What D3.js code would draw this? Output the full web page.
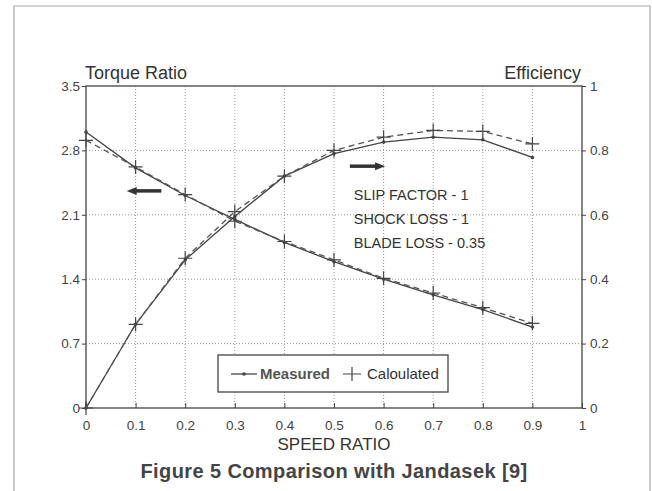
<!DOCTYPE html>
<html>
<head>
<meta charset="utf-8">
<script src="https://cdn.jsdelivr.net/npm/d3@7"></script>
<style>
  body { margin: 0; background: #fff; }
  svg { font-family: "Liberation Sans", Arial, sans-serif; }
</style>
</head>
<body>
<svg width="652" height="491"></svg>
<script>
// values
const speedRatio = [0, 0.1, 0.2, 0.3, 0.4, 0.5, 0.6, 0.7, 0.8, 0.9];
const torqueMeasured = [3.0, 2.61, 2.31, 2.05, 1.80, 1.59, 1.40, 1.23, 1.07, 0.88];
const torqueCalc = [2.91, 2.62, 2.32, 2.03, 1.81, 1.61, 1.41, 1.25, 1.09, 0.92];
const effMeasured = [0, 0.26, 0.46, 0.595, 0.72, 0.79, 0.826, 0.841, 0.833, 0.778];
const effCalc = [0, 0.26, 0.465, 0.61, 0.72, 0.80, 0.841, 0.862, 0.859, 0.82];
const xTicks = [0, 0.1, 0.2, 0.3, 0.4, 0.5, 0.6, 0.7, 0.8, 0.9, 1];
const torqueTicks = [0, 0.7, 1.4, 2.1, 2.8, 3.5];
const effTicks = [0, 0.2, 0.4, 0.6, 0.8, 1];
const notes = ["SLIP FACTOR - 1", "SHOCK LOSS - 1", "BLADE LOSS - 0.35"];

const svg = d3.select("svg");
const ink = "#444";

// page frame (scan border)
svg.append("path")
  .attr("d", "M14,491 L14,6 L650,6 L650,491")
  .attr("fill", "none")
  .attr("stroke", "#aaa")
  .attr("stroke-width", 1.2);

const x = d3.scaleLinear().domain([0, 1]).range([86, 582]);
const yT = d3.scaleLinear().domain([0, 3.5]).range([408, 86]);
const yE = d3.scaleLinear().domain([0, 1]).range([408, 86]);

// dotted grid
const grid = svg.append("g")
  .attr("stroke", "#999")
  .attr("stroke-dasharray", "1,2")
  .attr("stroke-width", 1);
grid.selectAll("line.gx")
  .data(xTicks.slice(1, -1))
  .enter().append("line")
  .attr("x1", (d) => x(d)).attr("x2", (d) => x(d))
  .attr("y1", yT(0)).attr("y2", yT(3.5));
grid.selectAll("line.gy")
  .data(torqueTicks.slice(1, -1))
  .enter().append("line")
  .attr("x1", x(0)).attr("x2", x(1))
  .attr("y1", (d) => yT(d)).attr("y2", (d) => yT(d));

// frame of the plot
svg.append("rect")
  .attr("x", x(0)).attr("y", yT(3.5))
  .attr("width", x(1) - x(0)).attr("height", yT(0) - yT(3.5))
  .attr("fill", "none")
  .attr("stroke", ink)
  .attr("stroke-width", 1.3);

// axes
const xAxis = svg.append("g")
  .attr("transform", `translate(0,${yT(0)})`)
  .call(d3.axisBottom(x).tickValues(xTicks).tickFormat(d3.format("")).tickSizeInner(-5).tickSizeOuter(0).tickPadding(12));
const leftAxis = svg.append("g")
  .attr("transform", `translate(${x(0)},0)`)
  .call(d3.axisLeft(yT).tickValues(torqueTicks).tickFormat(d3.format("")).tickSizeInner(4).tickSizeOuter(0).tickPadding(2));
const rightAxis = svg.append("g")
  .attr("transform", `translate(${x(1)},0)`)
  .call(d3.axisRight(yE).tickValues(effTicks).tickFormat(d3.format("")).tickSizeInner(4).tickSizeOuter(0).tickPadding(4));

[xAxis, leftAxis, rightAxis].forEach((g) => {
  g.select(".domain").remove();
  g.selectAll(".tick line").attr("stroke", ink);
  g.selectAll(".tick text")
    .attr("fill", "#444")
    .attr("font-size", 13.5)
    .attr("font-family", "Liberation Sans, Arial, sans-serif");
});

// axis titles
svg.append("text").attr("x", 85).attr("y", 79)
  .attr("font-size", 18).attr("fill", "#333").text("Torque Ratio");
svg.append("text").attr("x", 581).attr("y", 79)
  .attr("text-anchor", "end")
  .attr("font-size", 18).attr("fill", "#333").text("Efficiency");
svg.append("text").attr("x", (x(0) + x(1)) / 2).attr("y", 450)
  .attr("text-anchor", "middle")
  .attr("font-size", 17).attr("fill", "#333").text("SPEED RATIO");
svg.append("text").attr("x", (x(0) + x(1)) / 2).attr("y", 478)
  .attr("text-anchor", "middle")
  .attr("font-size", 20).attr("font-weight", "bold").attr("fill", "#444")
  .attr("letter-spacing", 0.4)
  .text("Figure 5 Comparison with Jandasek [9]");

// series
const series = [
  { vals: torqueMeasured, y: yT, calc: false },
  { vals: torqueCalc, y: yT, calc: true },
  { vals: effMeasured, y: yE, calc: false },
  { vals: effCalc, y: yE, calc: true }
];

series.forEach((s) => {
  const line = d3.line()
    .x((d, i) => x(speedRatio[i]))
    .y((d) => s.y(d));
  svg.append("path")
    .datum(s.vals)
    .attr("d", line)
    .attr("fill", "none")
    .attr("stroke", s.calc ? "#555" : ink)
    .attr("stroke-width", 1.3)
    .attr("stroke-dasharray", s.calc ? "6,4" : null);

  if (s.calc) {
    svg.append("g").selectAll("path")
      .data(s.vals)
      .enter().append("path")
      .attr("d", (d, i) => {
        const cx = x(speedRatio[i]), cy = s.y(d);
        return `M${cx - 7},${cy}H${cx + 7}M${cx},${cy - 7}V${cy + 7}`;
      })
      .attr("stroke", ink)
      .attr("stroke-width", 1.2);
  } else {
    svg.append("g").selectAll("circle")
      .data(s.vals)
      .enter().append("circle")
      .attr("cx", (d, i) => x(speedRatio[i]))
      .attr("cy", (d) => s.y(d))
      .attr("r", 1.8)
      .attr("fill", ink);
  }
});

// arrows showing which axis each curve belongs to
function arrow(x1, x2, yv) {
  const dir = Math.sign(x2 - x1);
  svg.append("line")
    .attr("x1", x1).attr("x2", x2 - dir * 8)
    .attr("y1", yv).attr("y2", yv)
    .attr("stroke", "#333").attr("stroke-width", 3.5);
  svg.append("path")
    .attr("d", `M${x2},${yv}L${x2 - dir * 10},${yv - 4}L${x2 - dir * 10},${yv + 4}Z`)
    .attr("fill", "#333");
}
arrow(x(0.152), x(0.082), yT(2.36));
arrow(x(0.532), x(0.603), yE(0.751));

// notes
svg.append("g").selectAll("text")
  .data(notes)
  .enter().append("text")
  .attr("x", x(0.54))
  .attr("y", (d, i) => 200 + i * 24)
  .attr("font-size", 14.5)
  .attr("fill", "#333")
  .text((d) => d);

// legend
const lg = svg.append("g");
lg.append("rect")
  .attr("x", 218).attr("y", 355).attr("width", 230).attr("height", 37)
  .attr("fill", "#fff").attr("stroke", ink).attr("stroke-width", 1.3);
lg.append("line").attr("x1", 231).attr("x2", 257).attr("y1", 374).attr("y2", 374)
  .attr("stroke", ink).attr("stroke-width", 1.3);
lg.append("circle").attr("cx", 244).attr("cy", 374).attr("r", 1.8).attr("fill", ink);
lg.append("text").attr("x", 260).attr("y", 379)
  .attr("font-size", 15).attr("font-weight", "bold").attr("fill", "#555").text("Measured");
lg.append("path").attr("d", "M343,374H361M352,367V381")
  .attr("stroke", ink).attr("stroke-width", 1.2);
lg.append("text").attr("x", 367).attr("y", 379)
  .attr("font-size", 15).attr("fill", "#333").text("Caloulated");
</script>
</body>
</html>
